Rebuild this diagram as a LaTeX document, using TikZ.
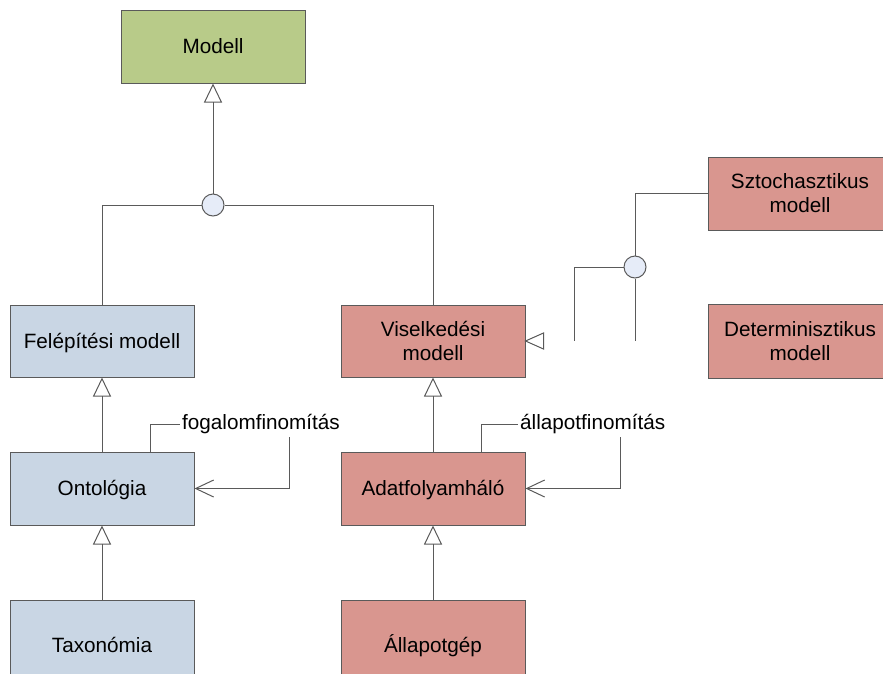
\documentclass[tikz,border=0pt]{standalone}
\usepackage{fontspec}
\setmainfont{Liberation Sans}
\usetikzlibrary{arrows.meta}
\definecolor{cgreen}{HTML}{B8CB89}
\definecolor{cblue}{HTML}{C9D6E4}
\definecolor{cred}{HTML}{D9968F}
\definecolor{ccirc}{HTML}{E6ECF8}
\definecolor{cline}{HTML}{5A5A5A}
\begin{document}
\begin{tikzpicture}[x=1pt,y=-1pt,
  every node/.style={font=\fontsize{20.7pt}{24pt}\selectfont},
  box/.style={draw=cline, line width=1pt, minimum width=184pt, minimum height=73pt, inner sep=0pt, text height=14.8pt, text depth=0pt, align=center},
  box2/.style={box, text height=38.8pt, text depth=0pt},
  junction/.style={circle, draw=cline, fill=ccirc, line width=1pt, minimum size=22pt, inner sep=0pt},
  conn/.style={draw=cline, line width=1pt},
  gen/.style={conn, -{Triangle[open, length=19pt, width=18pt]}},
  refine/.style={conn, -{Straight Barb[length=18pt, width=17pt]}},
  lab/.style={anchor=west, inner sep=2pt, text height=14.8pt, text depth=4.3pt}
]
\useasboundingbox (0,0) rectangle (883,673);
\clip (0,0) rectangle (883,673);

% boxes
\node[box, fill=cgreen] (modell) at (213,46.5) {Modell};
\node[box, fill=cblue, minimum height=72pt] (felep) at (102,341) {Felépítési modell};
\node[box2, fill=cred, minimum height=72pt] (visel) at (433,341) {Viselkedési\\modell};
\node[box, fill=cblue] (onto) at (102,488.5) {Ontológia};
\node[box, fill=cred] (adat) at (433,488.5) {Adatfolyamháló};
\node[box, fill=cblue, minimum height=90pt] (taxo) at (102,645) {Taxonómia};
\node[box, fill=cred, minimum height=90pt] (allap) at (433,645) {Állapotgép};
\node[box2, fill=cred] (sztoch) at (800,193.5) {Sztochasztikus\\modell};
\node[box2, fill=cred, minimum height=74pt] (determ) at (800,341) {Determinisztikus\\modell};

% junctions
\node[junction] (j1) at (213,205) {};
\node[junction] (j2) at (635,267) {};
\coordinate (e1) at (574,341);
\coordinate (e2) at (635,341);

% generalisation connectors
\draw[gen] (j1) -- (modell);
\draw[conn] (j1.west) -| (felep.north);
\draw[conn] (j1.east) -| (visel.north);
\draw[gen] (onto) -- (felep);
\draw[gen] (adat) -- (visel);
\draw[gen] (taxo) -- (onto);
\draw[gen] (allap) -- (adat);

% right fragment
\draw[conn] (sztoch.west) -| (j2.north);
\draw[conn] (j2.west) -| (e1);
\draw[conn] (j2.south) -- (e2);
\draw[conn, fill=white] (visel.east) -- ++(18,-8) -- ++(0,16) -- cycle;

% refinement loops
\node[lab] (lab1) at (180,424) {fogalomfinomítás};
\node[lab] (lab2) at (518,424) {állapotfinomítás};
\draw[conn] (onto.north) ++(48,0) |- (lab1.west);
\draw[refine] (lab1.south) ++(28.5,1.5) |- (onto.east);
\draw[conn] (adat.north) ++(48,0) |- (lab2.west);
\draw[refine] (lab2.south) ++(27.5,1.5) |- (adat.east);
\end{tikzpicture}
\end{document}
